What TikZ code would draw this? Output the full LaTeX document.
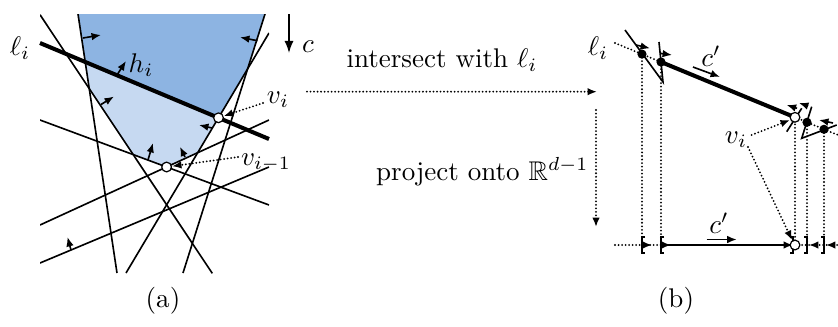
\documentclass[tikz,border=0pt]{standalone}
\usepackage{amssymb}
\usetikzlibrary{arrows.meta}
\definecolor{darkblue}{RGB}{141,180,226}
\definecolor{lightblue}{RGB}{198,217,241}
\begin{document}
\begin{tikzpicture}[x=0.37pt,y=-0.37pt,
  thinln/.style={line width=0.6pt},
  thickln/.style={line width=1.5pt},
  tip/.style={-{Latex[length=3.5pt,width=2.8pt]}},
  normal/.style={line width=0.6pt,tip},
  dotln/.style={line width=0.75pt,line cap=round,dash pattern=on 0pt off 1.3pt},
  dotarr/.style={dotln,tip},
  pt/.style={circle,fill=black,inner sep=0pt,minimum size=3.4pt},
  wpt/.style={circle,draw=black,fill=white,line width=0.45pt,inner sep=0pt,minimum size=3.6pt},
  lbl/.style={inner sep=0pt,anchor=base}]
\useasboundingbox (0,0) rectangle (838,326);
% ---------- (a) ----------
\coordinate (AL) at (85.2,62);
\coordinate (VI) at (218.5,117.8);
\coordinate (CF) at (247.6,68.9);
\coordinate (FE) at (197.7,152.7);
\coordinate (VIM) at (166.6,167);
\coordinate (DB) at (133.2,154.6);
\coordinate (AB) at (89.2,88.6);
\fill[darkblue] (78,14) -- (265,14) -- (CF) -- (VI) -- (AL) -- cycle;
\fill[lightblue] (AL) -- (VI) -- (FE) -- (VIM) -- (DB) -- (AB) -- cycle;
\begin{scope}
\clip (40,14) rectangle (269,273);
\draw[thinln] (78,14) -- (117,273);   % A
\draw[thinln] (40,14.7) -- (212.3,273.3); % B
\draw[thinln] (265,14) -- (183,273);  % C
\draw[thinln] (269,33) -- (126,273);  % F
\draw[thinln] (40,120) -- (269,205);  % D
\draw[thinln] (40,225) -- (269,120);  % E
\draw[thinln] (40,263) -- (269,167);  % G
\end{scope}
\draw[thickln] (40,43) -- (269,139);
\draw[normal] (83,38) -- (101,35);
\draw[normal] (257.5,40.7) -- (240,37.3);
\draw[normal] (117,75) -- (126,61);
\draw[normal] (101,104.5) -- (114,96.5);
\draw[normal] (148,160) -- (153,143);
\draw[normal] (185,157) -- (180,146.7);
\draw[normal] (212,128) -- (199,125);
\draw[normal] (71,250) -- (67.5,237);
\node[wpt] (vi) at (VI) {};
\node[wpt] (vim) at (VIM) {};
\node[lbl] (lia) at (20,55) {$\ell_i$};
\node[lbl] (hi) at (141,72) {$h_i$};
\node[lbl] (c) at (308,52) {$c$};
\draw[thinln,-{Latex[length=4.5pt,width=3.4pt]}] (289,14) -- (289,53);
\node[lbl] (vila) at (278,103) {$v_i$};
\node[lbl] (vimla) at (266,165) {$v_{i-1}$};
\draw[dotarr] (263,103) -- (vi);
\draw[dotarr] (238,157) -- (vim);
% ---------- middle ----------
\node[lbl] (int) at (442,67) {intersect with $\ell_i$};
\draw[dotarr] (307,91.7) -- (597,91.7);
\node[lbl,anchor=base east] (proj) at (589,180) {project onto $\mathbb{R}^{d-1}$};
\draw[dotarr] (596,110) -- (596,227);
\node[lbl] (la) at (163,307) {(a)};
\node[lbl] (lb) at (676,307) {(b)};
% ---------- (b) ----------
\coordinate (P1) at (642,54.1);
\coordinate (P2) at (661,62);
\coordinate (V2) at (795,117.3);
\coordinate (P3) at (807,122.3);
\coordinate (P4) at (824,129.3);
\draw[dotln] (615,43) -- (P2);
\draw[dotln] (V2) -- (838,135);
\draw[thickln] (P2) -- (V2);
\draw[thinln] (625,30) -- (663,82) -- (659,42);
\draw[thinln] (786.7,131.7) -- (801.7,108.3);
\draw[thinln] (811.7,106.7) -- (801.7,138.3) -- (836.7,125);
\draw[normal] (636,45) -- (650,48.3);
\draw[normal] (660.1,53.3) -- (672,55);
\draw[normal] (693,67) -- (720,77);
\draw[normal] (797,108.3) -- (786.7,105);
\draw[normal] (808,106) -- (799,103);
\draw[normal] (833,123) -- (819,120);
\node[lbl] (li2) at (598,55) {$\ell_i$};
\node[lbl] (cp) at (711,66) {$c'$};
\node[lbl] (vib) at (736,143) {$v_i$};
% projections
\draw[dotln] (P1) -- (642,245);
\draw[dotln] (P2) -- (661,245);
\draw[dotln] (V2) -- (795,245);
\draw[dotln] (P3) -- (807,245);
\draw[dotln] (P4) -- (824,245);
\draw[dotarr] (751.7,135) -- (790,120);
\draw[dotarr] (748,147) -- (792,240);
\draw[dotln] (615,245) -- (661,245);
\draw[dotln] (795,245) -- (838,245);
\draw[thinln,tip] (661,245) -- (793,245);
\draw[thinln] (645,237) -- (642,237) -- (642,253) -- (645,253);
\draw[thinln] (664,237) -- (661,237) -- (661,253) -- (664,253);
\draw[thinln] (790,237) -- (793,237) -- (793,253) -- (790,253);
\draw[thinln] (804,237) -- (807,237) -- (807,253) -- (804,253);
\draw[thinln] (821,237) -- (824,237) -- (824,253) -- (821,253);
\draw[normal] (642,245) -- (652,245);
\draw[normal] (661,245) -- (671,245);
\draw[normal] (817,245) -- (809,245);
\draw[normal] (833,245) -- (826,245);
\draw[normal] (706.7,239.5) -- (736.7,239.5);
\node[lbl] (cpb) at (719,233) {$c'$};
\node[pt] at (P1) {};
\node[pt] at (P2) {};
\node[pt] at (P3) {};
\node[pt] at (P4) {};
\node[wpt] at (V2) {};
\node[wpt] at (795,245) {};
\end{tikzpicture}
\end{document}
